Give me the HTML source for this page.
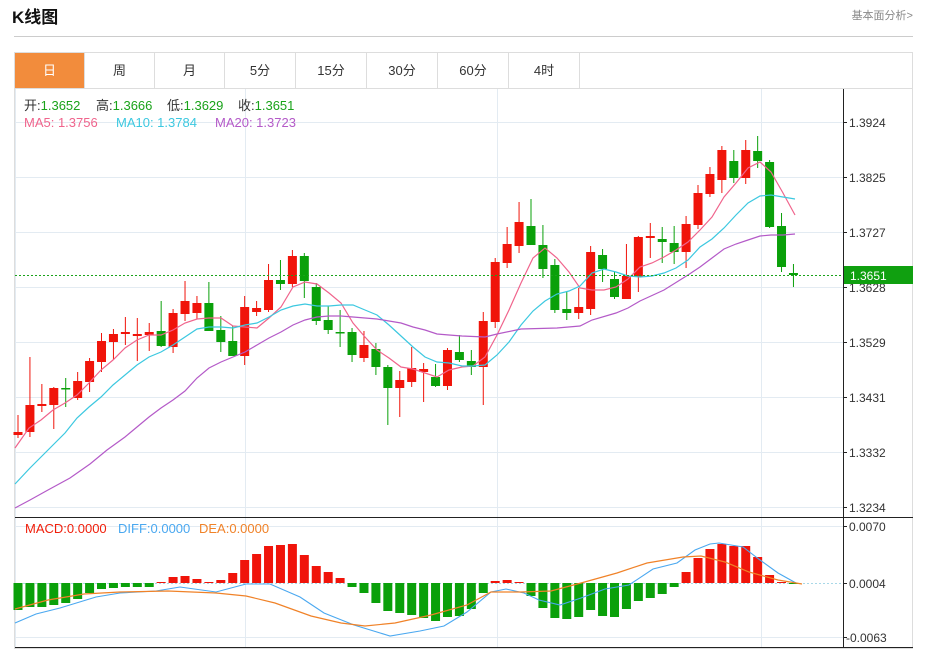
<!DOCTYPE html>
<html><head><meta charset="utf-8">
<style>
html,body{margin:0;padding:0;background:#fff;width:927px;height:650px;overflow:hidden;font-family:"Liberation Sans","Noto Sans CJK SC",sans-serif;}
svg{position:absolute;left:0;top:0;}
</style></head>
<body>
<svg id="s" width="927" height="650" xmlns="http://www.w3.org/2000/svg" font-family="Liberation Sans, Noto Sans CJK SC, sans-serif">
<text x="12" y="23" font-size="17" font-weight="bold" fill="#111">K线图</text>
<text x="913" y="19" font-size="11" fill="#888" text-anchor="end">基本面分析&gt;</text>
<line x1="14" y1="36.5" x2="913" y2="36.5" stroke="#ccc"/>
<rect x="14.5" y="52.5" width="898" height="596" fill="none" stroke="#ddd"/>
<line x1="14.5" y1="88.5" x2="912.5" y2="88.5" stroke="#ddd"/>
<rect x="15" y="53" width="69" height="35" fill="#f28c3c"/>
<g stroke="#ddd"><line x1="84.5" y1="53" x2="84.5" y2="88"/><line x1="154.5" y1="53" x2="154.5" y2="88"/><line x1="224.5" y1="53" x2="224.5" y2="88"/><line x1="295.5" y1="53" x2="295.5" y2="88"/><line x1="366.5" y1="53" x2="366.5" y2="88"/><line x1="437.5" y1="53" x2="437.5" y2="88"/><line x1="508.5" y1="53" x2="508.5" y2="88"/><line x1="579.5" y1="53" x2="579.5" y2="88"/></g>
<g font-size="13" text-anchor="middle" fill="#333"><text x="49.5" y="75" fill="#fff">日</text><text x="119.5" y="75">周</text><text x="189.5" y="75">月</text><text x="260" y="75">5分</text><text x="331" y="75">15分</text><text x="402" y="75">30分</text><text x="473" y="75">60分</text><text x="544" y="75">4时</text></g>
<g stroke="#e3ebf2" stroke-width="1">
<line x1="15" y1="122.5" x2="843" y2="122.5"/><line x1="15" y1="177.5" x2="843" y2="177.5"/><line x1="15" y1="232.5" x2="843" y2="232.5"/><line x1="15" y1="287.5" x2="843" y2="287.5"/><line x1="15" y1="342.5" x2="843" y2="342.5"/><line x1="15" y1="397.5" x2="843" y2="397.5"/><line x1="15" y1="452.5" x2="843" y2="452.5"/><line x1="15" y1="507.5" x2="843" y2="507.5"/>
<line x1="15" y1="526.5" x2="843" y2="526.5"/><line x1="15" y1="637.5" x2="843" y2="637.5"/>
<line x1="245.5" y1="89" x2="245.5" y2="647"/><line x1="497.5" y1="89" x2="497.5" y2="647"/><line x1="761.5" y1="89" x2="761.5" y2="647"/>
<line x1="15.5" y1="89" x2="15.5" y2="647"/>
</g>
<line x1="15" y1="583.5" x2="843" y2="583.5" stroke="#a8d8e8" stroke-dasharray="2,2"/>
<g id="cand"></g>
<g id="macd"></g>
<polyline fill="none" stroke="#f0648c" stroke-width="1.2" points="15,448 29,428 41,420 53,410 65,403 77,395 89,383 101,370 113,360 125,348 137,340 149,335 161,335 173,330 185,323 197,319 209,318 221,318 233,326 245,327 257,328 269,318 281,307 293,287 305,282 317,284 329,293 341,303 353,323 365,337 377,350 389,358 401,367 413,369 425,373 437,377 449,370 462,367 473,366 485,357 497,335 509,310 521,283 533,258 545,248 557,258 569,272 580,288 592,290 604,290 616,287 628,279 640,267 652,263 664,257 676,250 688,242 700,230 712,217 724,197 736,183 748,168 760,162 771,172 783,193 795,215"/>
<polyline fill="none" stroke="#3cc8e0" stroke-width="1.2" points="15,484 30,468 48,450 65,433 77,418 89,407 101,397 113,385 125,375 137,365 149,357 161,352 173,345 185,337 197,329 209,327 221,327 233,328 245,325 257,323 269,317 281,310 293,306 305,304 317,306 329,306 341,305 353,305 365,310 377,315 389,325 401,336 413,347 425,357 437,362 449,363 462,366 473,366 485,365 497,355 509,342 521,325 533,311 545,301 557,294 569,291 580,286 592,273 604,269 616,272 628,276 640,277 652,276 664,273 676,268 688,260 700,247 712,239 724,228 736,215 748,203 760,196 771,195 783,197 795,199"/>
<polyline fill="none" stroke="#b45ac8" stroke-width="1.2" points="15,508 30,500 48,490 70,478 90,464 107,450 125,437 137,427 149,417 161,408 173,400 185,391 197,378 209,368 221,362 233,357 245,352 257,345 269,338 281,332 293,325 305,320 317,317 329,316 341,316 353,317 365,318 377,319 389,321 401,323 413,327 425,330 437,334 449,335 462,336 485,337 497,334 521,329 557,328 580,326 592,320 616,313 628,308 640,301 664,290 688,275 700,267 712,258 724,249 736,244 748,240 760,236 771,235 783,235 795,234"/>
<polyline fill="none" stroke="#4aa8f0" stroke-width="1.1" points="15,623 36,614 60,608 96,597 120,593 156,591 180,587 216,592 246,584 270,584 300,597 324,613 354,625 390,636 420,631 444,626 467,612 491,592 506,589 524,593 539,600 560,605 581,598 605,589 629,585 653,569 677,563 695,550 710,544 719,543 743,547 760,560 778,573 796,583"/>
<polyline fill="none" stroke="#f08228" stroke-width="1.2" points="15,609 48,600 84,594 120,592 168,591 216,593 246,596 275,603 311,616 341,623 365,626 395,623 431,615 467,605 491,592 521,592 551,591 581,583 617,573 647,563 683,557 701,556 725,562 749,572 778,580 802,584"/>
<line x1="15" y1="275.5" x2="843" y2="275.5" stroke="#1aa31a" stroke-dasharray="2,2"/>
<line x1="15" y1="517.5" x2="913" y2="517.5" stroke="#222"/>
<line x1="15" y1="647.5" x2="913" y2="647.5" stroke="#222"/>
<line x1="843.5" y1="89" x2="843.5" y2="648" stroke="#222"/>
<g stroke="#222"><line x1="843" y1="122.5" x2="847" y2="122.5"/><line x1="843" y1="177.5" x2="847" y2="177.5"/><line x1="843" y1="232.5" x2="847" y2="232.5"/><line x1="843" y1="287.5" x2="847" y2="287.5"/><line x1="843" y1="342.5" x2="847" y2="342.5"/><line x1="843" y1="397.5" x2="847" y2="397.5"/><line x1="843" y1="452.5" x2="847" y2="452.5"/><line x1="843" y1="507.5" x2="847" y2="507.5"/><line x1="843" y1="526.5" x2="847" y2="526.5"/><line x1="843" y1="583.5" x2="847" y2="583.5"/><line x1="843" y1="637.5" x2="847" y2="637.5"/></g>
<g font-size="12" fill="#333"><text x="849" y="127">1.3924</text><text x="849" y="182">1.3825</text><text x="849" y="237">1.3727</text><text x="849" y="292">1.3628</text><text x="849" y="347">1.3529</text><text x="849" y="402">1.3431</text><text x="849" y="457">1.3332</text><text x="849" y="512">1.3234</text><text x="849" y="531">0.0070</text><text x="849" y="588">0.0004</text><text x="846" y="642">-0.0063</text></g>
<rect x="844" y="266" width="69" height="18" fill="#10a010"/>
<text x="850" y="280" font-size="12" fill="#fff">1.3651</text>
<g font-size="13">
<text x="24" y="110" fill="#333">开:<tspan fill="#1aa31a">1.3652</tspan></text>
<text x="96" y="110" fill="#333">高:<tspan fill="#1aa31a">1.3666</tspan></text>
<text x="167" y="110" fill="#333">低:<tspan fill="#1aa31a">1.3629</tspan></text>
<text x="238" y="110" fill="#333">收:<tspan fill="#1aa31a">1.3651</tspan></text>
<text x="24" y="127" fill="#f0648c">MA5: 1.3756</text>
<text x="116" y="127" fill="#3cc8e0">MA10: 1.3784</text>
<text x="215" y="127" fill="#b45ac8">MA20: 1.3723</text>
<text x="25" y="533" fill="#f01e0a">MACD:0.0000</text>
<text x="118" y="533" fill="#4aa8f0">DIFF:0.0000</text>
<text x="199" y="533" fill="#f08228">DEA:0.0000</text>
</g>
</svg>
<script>
var C=[[432,435,415,438,1],[405,432,357,437,1],[404,406,384,412,1],[388,405,387,429,1],[388,389,378,407,0],[381,398,372,400,1],[361,382,358,392,1],[341,362,333,372,1],[334,342,329,360,1],[332,334,317,345,1],[334,336,318,361,1],[332,335,323,351,1],[331,346,301,347,0],[313,347,309,353,1],[301,314,281,321,1],[303,313,296,319,1],[303,331,282,331,0],[330,342,316,352,0],[341,356,326,356,0],[307,356,296,365,1],[308,312,301,316,1],[280,310,264,312,1],[280,284,260,290,0],[256,284,250,287,1],[256,281,253,298,0],[287,321,283,325,0],[320,330,306,334,0],[332,333,310,347,0],[332,355,328,362,0],[345,358,331,362,1],[349,367,343,375,0],[367,388,365,425,0],[380,388,371,417,1],[368,382,347,387,1],[369,372,363,402,1],[377,386,364,387,0],[350,386,348,390,1],[352,360,335,362,0],[361,367,350,375,0],[321,367,312,405,1],[262,322,258,328,1],[244,263,227,268,1],[222,246,202,253,1],[226,245,199,245,0],[245,269,225,278,0],[265,310,259,313,0],[309,313,292,320,0],[307,313,288,319,1],[252,309,246,315,1],[255,269,249,282,0],[279,297,272,299,0],[276,299,244,299,1],[237,277,236,292,1],[236,238,223,258,1],[239,242,227,263,0],[243,252,226,264,0],[224,252,216,268,1],[193,225,185,229,1],[174,194,167,197,1],[150,180,146,193,1],[161,178,150,183,0],[150,178,140,184,1],[151,161,136,168,0],[162,227,160,228,0],[226,267,213,272,0],[273,275,264,287,0]];
var M=[610,607,607,605,603,599,593,589,588,587,587,587,582,577,576,579,582,580,573,560,554,546,545,544,555,566,572,578,587,593,603,611,613,615,618,621,617,616,609,593,581,580,582,596,608,618,619,617,610,616,617,609,601,598,594,587,572,558,549,544,546,546,557,575,582,583];
var R="#f0140a",G="#0aa00a",s="";
for(var i=0;i<C.length;i++){var x=18+i*11.93,c=C[i],col=c[4]?R:G;
s+='<line x1="'+x+'" y1="'+c[2]+'" x2="'+x+'" y2="'+c[3]+'" stroke="'+col+'" stroke-width="1"/>';
var h=Math.max(c[1]-c[0],1.5);s+='<rect x="'+(x-4.5)+'" y="'+c[0]+'" width="9" height="'+h+'" fill="'+col+'"/>';}
document.getElementById("cand").innerHTML=s;s="";
for(var i=0;i<M.length;i++){var x=18+i*11.93,v=M[i],col=v<583?R:G,y=Math.min(v,583),h=Math.max(Math.abs(v-583),1);
s+='<rect x="'+(x-4.5)+'" y="'+y+'" width="9" height="'+h+'" fill="'+col+'"/>';}
document.getElementById("macd").innerHTML=s;
</script>
</body></html>
